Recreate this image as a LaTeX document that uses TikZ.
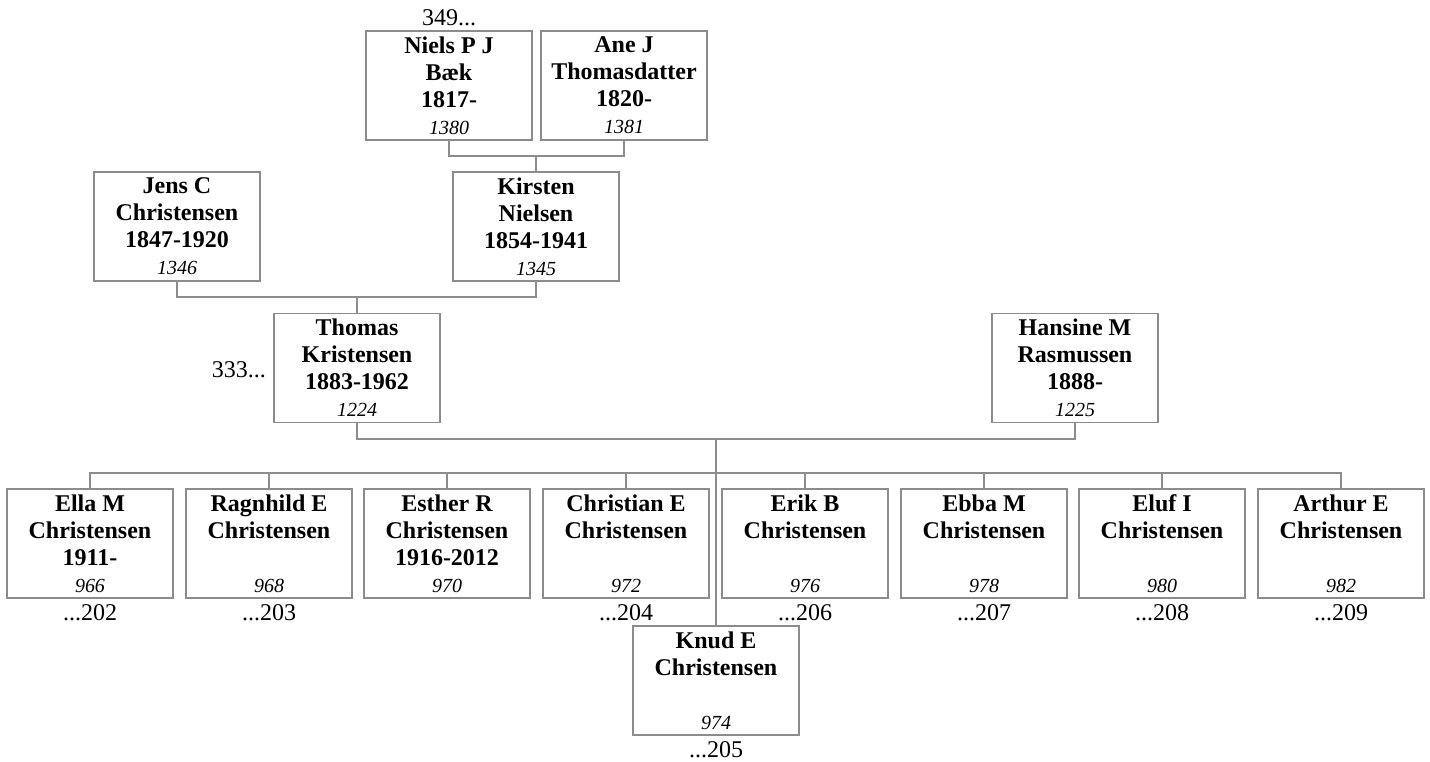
\documentclass[tikz,border=0pt]{standalone}
\usepackage{fontspec}
\setmainfont{Liberation Serif}
\usepackage{tikz}
\usetikzlibrary{positioning}
\definecolor{Linea}{HTML}{8C8C8C}
\newcommand{\refnr}[1]{{\normalfont\itshape\fontsize{10}{12}\selectfont #1}}

\begin{document}
\begin{tikzpicture}[
  x=0.5pt,y=-0.5pt,
  every node/.style={font=\fontsize{12}{13.5}\selectfont},
  person/.style={rectangle,draw=Linea,line width=0.75pt,fill=white,
    minimum width=83pt,minimum height=54.5pt,inner sep=0pt,
    align=center,font=\fontsize{12}{13.5}\selectfont\bfseries},
  link/.style={draw=Linea,line width=0.75pt},
  more/.style={inner sep=0pt}
]
  \useasboundingbox (0,0) rectangle (1430,761);

  % generation 1
  \node[person] (niels) at (449,85.5) {Niels P J\\Bæk\\1817-\\\refnr{1380}};
  \node[person] (ane) at (624,85.5) {Ane J\\Thomasdatter\\1820-\\\refnr{1381}};
  \node[more,above=2pt of niels.north,anchor=south] (m349) {349...};

  % generation 2
  \node[person] (jens) at (177,226.5) {Jens C\\Christensen\\1847-1920\\\refnr{1346}};
  \node[person] (kirsten) at (536,226.5) {Kirsten\\Nielsen\\1854-1941\\\refnr{1345}};

  % generation 3
  \node[person] (thomas) at (357,368) {Thomas\\Kristensen\\1883-1962\\\refnr{1224}};
  \node[person] (hansine) at (1075,368) {Hansine M\\Rasmussen\\1888-\\\refnr{1225}};
  \node[more,left=3.5pt of thomas.west,anchor=east,yshift=-1pt] (m333) {333...};

  % children
  \node[person] (ella) at (90,543.5) {Ella M\\Christensen\\1911-\\\refnr{966}};
  \node[person] (ragnhild) at (269,543.5) {Ragnhild E\\Christensen\\\mbox{}\\\refnr{968}};
  \node[person] (esther) at (447,543.5) {Esther R\\Christensen\\1916-2012\\\refnr{970}};
  \node[person] (christian) at (626,543.5) {Christian E\\Christensen\\\mbox{}\\\refnr{972}};
  \node[person] (erik) at (805,543.5) {Erik B\\Christensen\\\mbox{}\\\refnr{976}};
  \node[person] (ebba) at (984,543.5) {Ebba M\\Christensen\\\mbox{}\\\refnr{978}};
  \node[person] (eluf) at (1162,543.5) {Eluf I\\Christensen\\\mbox{}\\\refnr{980}};
  \node[person] (arthur) at (1341,543.5) {Arthur E\\Christensen\\\mbox{}\\\refnr{982}};
  \node[person] (knud) at (716,680.5) {Knud E\\Christensen\\\mbox{}\\\refnr{974}};

  \node[more,below=2.5pt of ella.south,anchor=north] (d202) {...202};
  \node[more,below=2.5pt of ragnhild.south,anchor=north] (d203) {...203};
  \node[more,below=2.5pt of christian.south,anchor=north] (d204) {...204};
  \node[more,below=2.5pt of knud.south,anchor=north] (d205) {...205};
  \node[more,below=2.5pt of erik.south,anchor=north] (d206) {...206};
  \node[more,below=2.5pt of ebba.south,anchor=north] (d207) {...207};
  \node[more,below=2.5pt of eluf.south,anchor=north] (d208) {...208};
  \node[more,below=2.5pt of arthur.south,anchor=north] (d209) {...209};

  % family lines
  \coordinate (f1) at (536,156);
  \coordinate (f2) at (357,297);
  \coordinate (f3) at (716,439);
  \coordinate (bus) at (716,473);
  \draw[link] (niels.south) |- (f1) -| (ane.south);
  \draw[link] (f1) -- (kirsten.north);
  \draw[link] (jens.south) |- (f2) -| (kirsten.south);
  \draw[link] (f2) -- (thomas.north);
  \draw[link] (thomas.south) |- (f3) -| (hansine.south);
  \draw[link] (f3) -- (knud.north);
  \draw[link] (ella.north) |- (bus) -| (arthur.north);
  \draw[link] (ragnhild.north) -- (ragnhild.north |- bus);
  \draw[link] (esther.north) -- (esther.north |- bus);
  \draw[link] (christian.north) -- (christian.north |- bus);
  \draw[link] (erik.north) -- (erik.north |- bus);
  \draw[link] (ebba.north) -- (ebba.north |- bus);
  \draw[link] (eluf.north) -- (eluf.north |- bus);
\end{tikzpicture}
\end{document}
